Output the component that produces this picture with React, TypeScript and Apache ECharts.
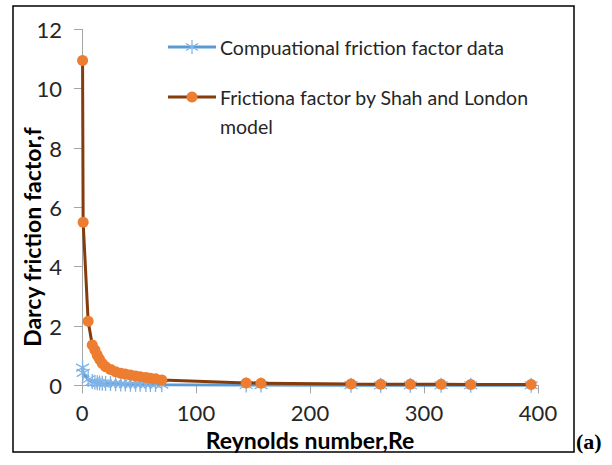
import React, { useEffect, useRef } from "react";
import * as echarts from "echarts";

// Reynolds numbers of the sampled cases
const reynolds = [
  0.5, 1, 5.4, 9, 11.3, 13.4, 15.4, 17.8, 20.7, 25, 29.5, 34, 38, 42.5, 47, 51,
  56, 60, 64.5, 70, 144, 157, 236, 262, 288, 315, 341, 394,
];

// Darcy friction factor from the CFD runs
const computational = [
  0.6, 0.42, 0.2, 0.13, 0.11, 0.09, 0.08, 0.07, 0.065, 0.06, 0.055, 0.05, 0.045,
  0.04, 0.038, 0.035, 0.033, 0.03, 0.028, 0.026, 0.012, 0.011, 0.008, 0.007,
  0.006, 0.006, 0.005, 0.004,
];

// Darcy friction factor from the Shah and London correlation
const shahLondon = [
  10.95, 5.5, 2.16, 1.36, 1.19, 1.02, 0.88, 0.74, 0.63, 0.54, 0.46, 0.41, 0.38,
  0.35, 0.32, 0.29, 0.27, 0.24, 0.22, 0.18, 0.08, 0.075, 0.047, 0.042, 0.038,
  0.035, 0.032, 0.028,
];

const xTicks = [0, 400, 100];
const yTicks = [0, 12, 2];

const seriesNames = [
  "Compuational friction factor data",
  "Frictiona factor by Shah and London model",
];

const BLUE = "#5B9BD5";
const STAR_BLUE = "#7FB2E5";
const ORANGE = "#ED7D31";
const BROWN = "#843C0C";
const TEXT = "#262626";
const AXIS = "#A6A6A6";
const FONT = "Lato, 'Noto Sans', sans-serif";

// Excel-style asterisk marker: vertical bar plus two diagonals
const STAR = "path://M5,0L5,10M0.67,2.5L9.33,7.5M0.67,7.5L9.33,2.5";

function starGlyph(cx: number, cy: number, r: number) {
  const dx = r * 0.866;
  const dy = r * 0.5;
  const style = { stroke: STAR_BLUE, lineWidth: 1.2 };
  return {
    type: "group",
    children: [
      { type: "line", shape: { x1: cx, y1: cy - r, x2: cx, y2: cy + r }, style },
      { type: "line", shape: { x1: cx - dx, y1: cy - dy, x2: cx + dx, y2: cy + dy }, style },
      { type: "line", shape: { x1: cx - dx, y1: cy + dy, x2: cx + dx, y2: cy - dy }, style },
    ],
  };
}

export default function App() {
  const ref = useRef<HTMLDivElement>(null);

  useEffect(() => {
    document.body.style.margin = "0";
    if (!ref.current) return;
    const chart = echarts.init(ref.current, undefined, { renderer: "svg" });

    const cfd = reynolds.map((re, i) => [re, computational[i]]);
    const model = reynolds.map((re, i) => [re, shahLondon[i]]);

    chart.setOption({
      animation: false,
      backgroundColor: "#ffffff",
      grid: { left: 82, right: 74, top: 29.3, bottom: 79.6, containLabel: false },
      xAxis: {
        type: "value",
        min: xTicks[0],
        max: xTicks[1],
        interval: xTicks[2],
        axisLine: { show: true, lineStyle: { color: AXIS, width: 1 } },
        axisTick: { show: true, inside: false, length: 8, lineStyle: { color: AXIS } },
        axisLabel: { color: TEXT, fontSize: 22, fontFamily: FONT, margin: 16 },
        splitLine: { show: false },
      },
      yAxis: {
        type: "value",
        min: yTicks[0],
        max: yTicks[1],
        interval: yTicks[2],
        axisLine: { show: true, lineStyle: { color: AXIS, width: 1 } },
        axisTick: { show: true, inside: false, length: 8, lineStyle: { color: AXIS } },
        axisLabel: { color: TEXT, fontSize: 22, fontFamily: FONT, margin: 20 },
        splitLine: { show: false },
      },
      series: [
        {
          name: seriesNames[0],
          type: "line",
          data: cfd,
          symbol: STAR,
          symbolSize: 15,
          symbolKeepAspect: true,
          lineStyle: { color: BLUE, width: 3 },
          itemStyle: { color: "rgba(0,0,0,0)", borderColor: STAR_BLUE, borderWidth: 1.3 },
          z: 2,
        },
        {
          name: seriesNames[1],
          type: "line",
          data: model,
          symbol: "circle",
          symbolSize: 11,
          lineStyle: { color: BROWN, width: 3 },
          itemStyle: { color: ORANGE, borderColor: ORANGE, borderWidth: 0 },
          z: 3,
        },
      ],
      graphic: [
        // outer frame
        {
          type: "rect",
          shape: { x: 13, y: 6, width: 561, height: 446 },
          style: { fill: "none", stroke: "#000", lineWidth: 1.5 },
          silent: true,
        },
        // axis titles
        {
          type: "text",
          x: 310,
          y: 440,
          style: {
            text: "Reynolds number,Re",
            fill: "#000",
            font: `bold 23px ${FONT}`,
            align: "center",
            verticalAlign: "middle",
          },
        },
        {
          type: "text",
          x: 32,
          y: 237,
          rotation: Math.PI / 2,
          style: {
            text: "Darcy friction factor,f",
            fill: "#000",
            font: `bold 23px ${FONT}`,
            align: "center",
            verticalAlign: "middle",
          },
        },
        // panel label
        {
          type: "text",
          x: 576,
          y: 441,
          style: {
            text: "(a)",
            fill: "#000",
            font: "bold 22px 'Liberation Serif', 'DejaVu Serif', serif",
            align: "left",
            verticalAlign: "middle",
          },
        },
        // legend
        {
          type: "line",
          shape: { x1: 168, y1: 47, x2: 216, y2: 47 },
          style: { stroke: BLUE, lineWidth: 3 },
        },
        starGlyph(192, 47, 7),
        {
          type: "text",
          x: 220,
          y: 47,
          style: {
            text: seriesNames[0],
            fill: TEXT,
            font: `19.5px ${FONT}`,
            align: "left",
            verticalAlign: "middle",
          },
        },
        {
          type: "line",
          shape: { x1: 168, y1: 97, x2: 216, y2: 97 },
          style: { stroke: BROWN, lineWidth: 3 },
        },
        {
          type: "circle",
          shape: { cx: 192, cy: 97, r: 5.5 },
          style: { fill: ORANGE },
        },
        {
          type: "text",
          x: 220,
          y: 83,
          style: {
            text: "Frictiona factor by Shah and London\nmodel",
            fill: TEXT,
            font: `19.5px ${FONT}`,
            lineHeight: 29,
            align: "left",
            verticalAlign: "top",
          },
        },
      ],
    });

    return () => chart.dispose();
  }, []);

  return <div ref={ref} style={{ width: 612, height: 465 }} />;
}
